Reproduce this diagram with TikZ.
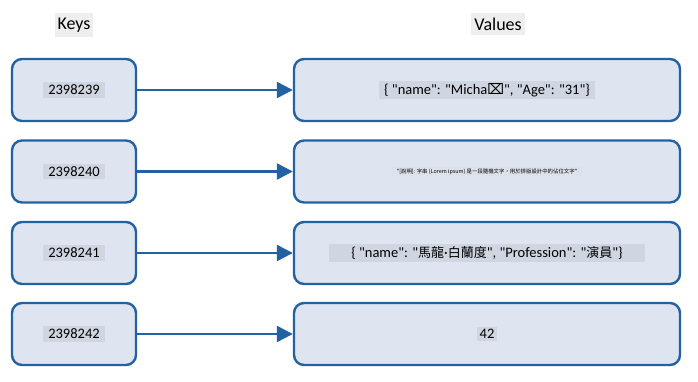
\documentclass[tikz,border=0pt]{standalone}
\usepackage{fontspec}
\setmainfont{Carlito}[Ligatures=TeXOff]
\newfontfamily\cjkfont{Noto Sans CJK TC}
\newfontfamily\symfont{DejaVu Sans}
\usetikzlibrary{arrows.meta, positioning}

\definecolor{boxline}{HTML}{2262A2}
\definecolor{boxfill}{HTML}{DEE5F0}
\definecolor{textbg}{HTML}{CFD6E1}
\definecolor{headbg}{HTML}{EEEEEE}

\tikzset{
  keybox/.style={draw=boxline, line width=2.4pt, fill=boxfill, rounded corners=10pt,
    minimum width=124pt, minimum height=62pt},
  valbox/.style={keybox, minimum width=386pt},
  labelbg/.style={fill=textbg, inner xsep=5pt, inner ysep=2.5pt, font=\fontsize{14.5}{16}\selectfont},
  headlbl/.style={fill=headbg, inner xsep=3pt, inner ysep=5pt, font=\fontsize{18}{20}\selectfont},
  link/.style={draw=boxline, line width=2.4pt, -{Triangle[length=16pt,width=16pt]}}
}

\begin{document}
\begin{tikzpicture}[x=1pt,y=-1pt]
\useasboundingbox (0,0) rectangle (698,382);

% column titles
\node[headlbl] (keyhead) at (74,25) {Keys};
\node[headlbl] (valhead) at (498,24) {Values};

% keys
\node[keybox, label={[labelbg]center:2398239}] (kOne) at (74,90) {};
\node[keybox, label={[labelbg]center:2398240}] (kTwo) at (74,171.5) {};
\node[keybox, label={[labelbg]center:2398241}] (kThree) at (74,253) {};
\node[keybox, label={[labelbg]center:2398242}] (kFour) at (74,334) {};

% values
\node[valbox, label={[labelbg]center:\{ "name": "Micha{\symfont ⌧}", "Age": "31"\}}] (vOne) at (487,90) {};
\node[valbox, label={[labelbg, fill=textbg!70, inner ysep=2pt, font=\fontsize{5.4}{6}\selectfont]center:{\cjkfont "[說明]: 字串 (Lorem ipsum) 是一段隨機文字，用於排版設計中的佔位文字"}}] (vTwo) at (487,171.5) {};
\node[valbox, label={[labelbg, inner xsep=22pt]center:\{ "name": "{\cjkfont\fontsize{13}{16}\selectfont 馬龍}·{\cjkfont\fontsize{13}{16}\selectfont 白蘭度}", "Profession": "{\cjkfont\fontsize{13}{16}\selectfont 演員}"\}}] (vThree) at (487,253) {};
\node[valbox, label={[labelbg, inner xsep=3pt]center:42}] (vFour) at (487,334) {};

% arrows
\draw[link] (kOne) -- (vOne);
\draw[link] (kTwo) -- (vTwo);
\draw[link] (kThree) -- (vThree);
\draw[link] (kFour) -- (vFour);
\end{tikzpicture}
\end{document}
